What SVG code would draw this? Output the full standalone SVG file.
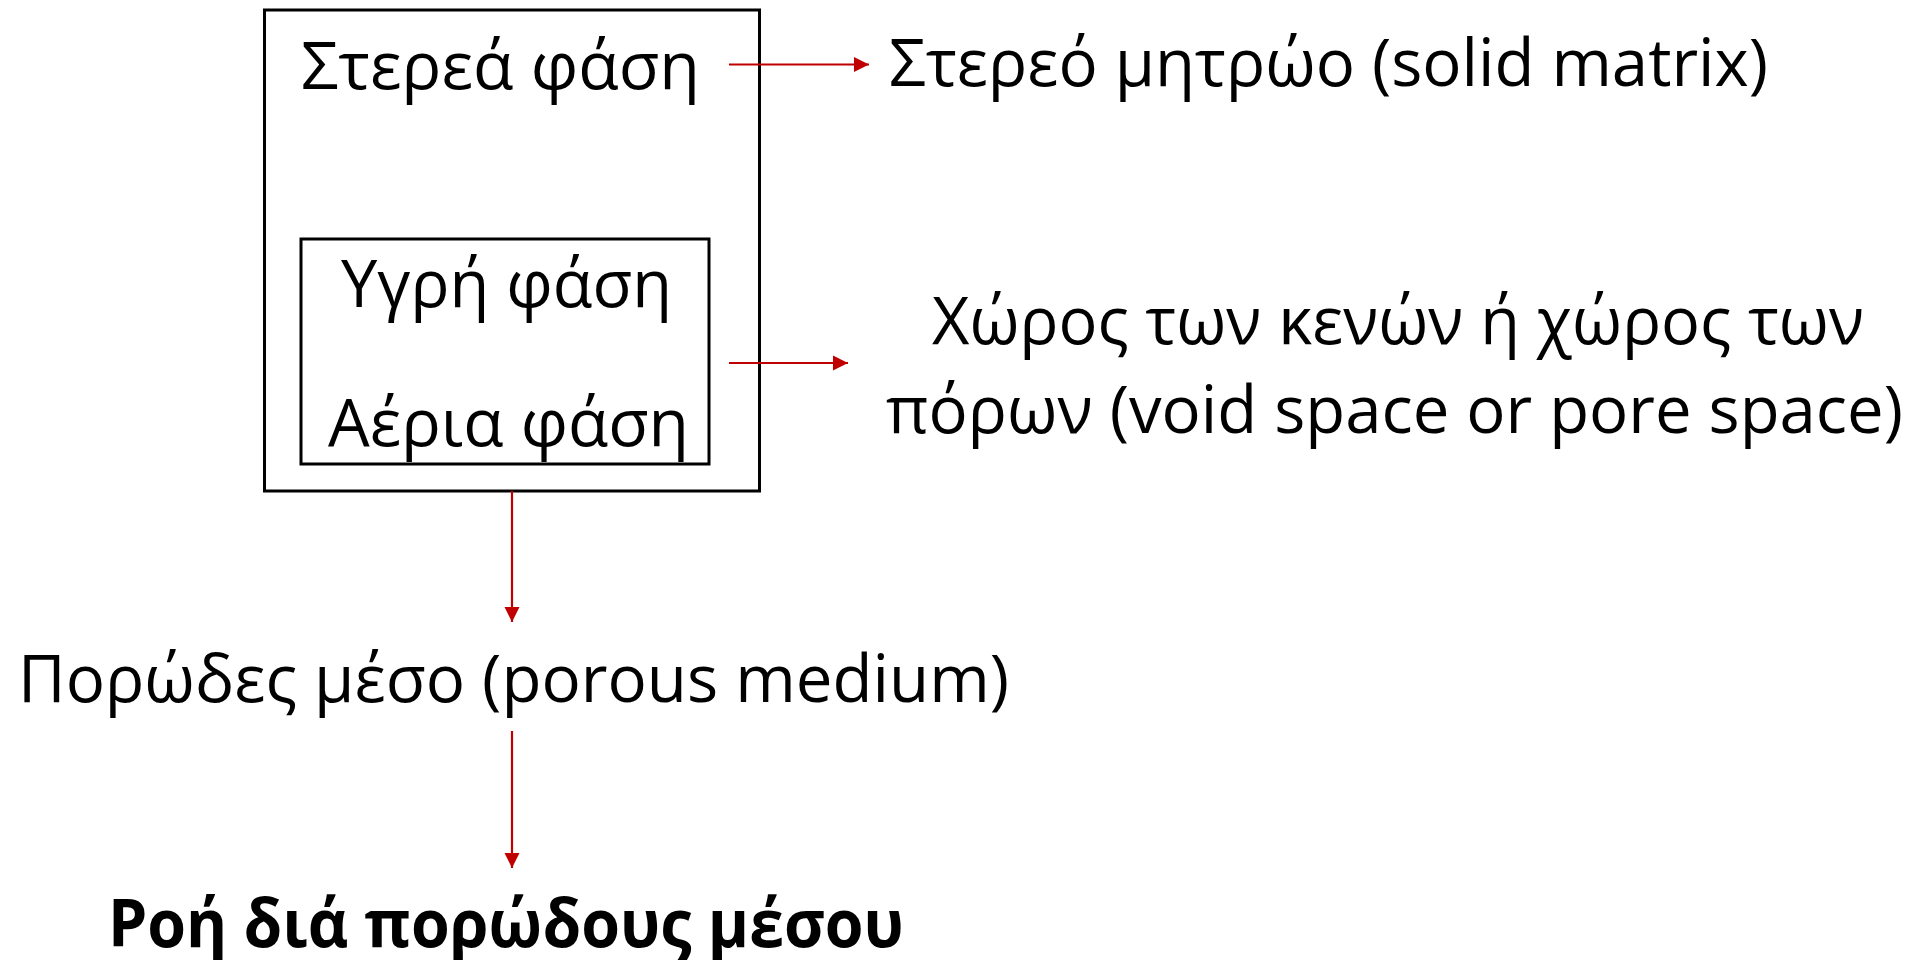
<svg xmlns="http://www.w3.org/2000/svg" width="1911" height="960" viewBox="0 0 1911 960">
<defs>
<marker id="ah" viewBox="0 0 10 10" refX="10" refY="5" markerWidth="7" markerHeight="7" markerUnits="strokeWidth" orient="auto">
<path d="M0,0 L10,5 L0,10 Z" fill="#C00000"/>
</marker>
<style>
.t{font-family:"Open Sans","Noto Sans","DejaVu Sans",sans-serif;font-size:66px;fill:#000}
.b{font-weight:bold}
.box{fill:none;stroke:#000;stroke-width:3}
.c{stroke:#C00000;stroke-width:2.2;fill:none;marker-end:url(#ah)}
</style>
</defs>
<rect width="1911" height="960" fill="#fff"/>
<g id="porous-box">
<rect class="box" x="264.5" y="10" width="495" height="481"/>
<text class="t" x="301" y="89" textLength="399" lengthAdjust="spacingAndGlyphs">Στερεά φάση</text>
</g>
<g id="void-box">
<rect class="box" x="301" y="239" width="408" height="225"/>
<text class="t" x="341" y="307" textLength="331" lengthAdjust="spacingAndGlyphs">Υγρή φάση</text>
<text class="t" x="328" y="446" textLength="361" lengthAdjust="spacingAndGlyphs">Αέρια φάση</text>
</g>
<g id="solid-matrix">
<text class="t" x="889" y="86" textLength="879" lengthAdjust="spacingAndGlyphs">Στερεό μητρώο (solid matrix)</text>
</g>
<g id="void-space">
<text class="t" x="932" y="344" textLength="932" lengthAdjust="spacingAndGlyphs">Χώρος των κενών ή χώρος των</text>
<text class="t" x="886" y="433" textLength="1017" lengthAdjust="spacingAndGlyphs">πόρων (void space or pore space)</text>
</g>
<g id="porous-medium">
<text class="t" x="18" y="702" textLength="991" lengthAdjust="spacingAndGlyphs">Πορώδες μέσο (porous medium)</text>
</g>
<g id="flow">
<text class="t b" x="108" y="947" textLength="796" lengthAdjust="spacingAndGlyphs">Ροή διά πορώδους μέσου</text>
</g>
<g id="connectors">
<line class="c" x1="729" y1="64.5" x2="869" y2="64.5"/>
<line class="c" x1="729" y1="363" x2="848" y2="363"/>
<line class="c" x1="512" y1="491" x2="512" y2="622"/>
<line class="c" x1="512" y1="731" x2="512" y2="868"/>
</g>
</svg>
